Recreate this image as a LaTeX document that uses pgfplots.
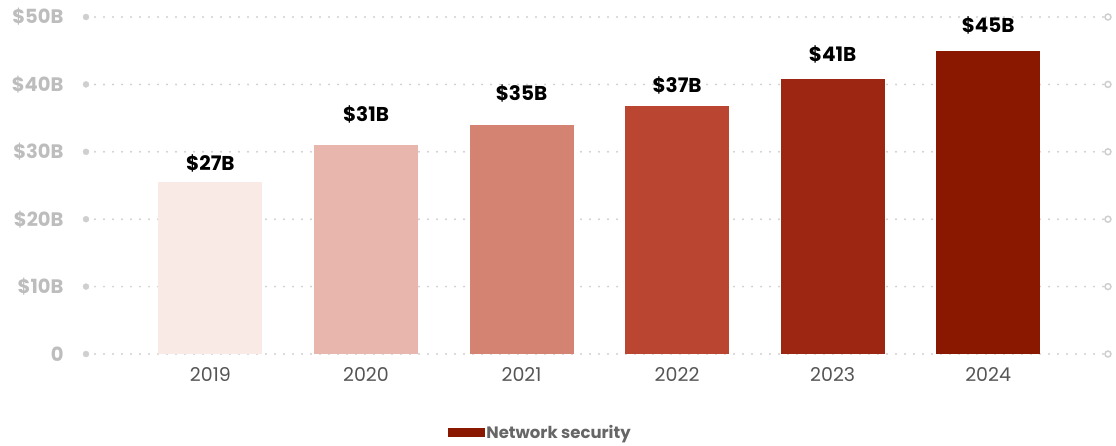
\documentclass[border=0pt]{standalone}
\usepackage{pgfplots}
\pgfplotsset{compat=1.18}
\usepackage{fontspec}
\setmainfont{Poppins}
\definecolor{cA}{HTML}{FAEAE5}
\definecolor{cB}{HTML}{E9B6AD}
\definecolor{cC}{HTML}{D48373}
\definecolor{cD}{HTML}{BA4530}
\definecolor{cE}{HTML}{9C2612}
\definecolor{cF}{HTML}{8A1800}
\definecolor{gridc}{HTML}{CFCFCF}
\definecolor{ylab}{HTML}{BDBDBD}
\definecolor{xlab}{HTML}{555555}
\definecolor{leglab}{HTML}{666666}
\begin{document}
\begin{tikzpicture}[x=1pt,y=1pt]
\path[use as bounding box] (0,0) rectangle (1116,445);
\begin{axis}[
  at={(86pt,91pt)}, anchor=south west,
  scale only axis, width=1022pt, height=337pt,
  xmin=-0.8, xmax=5.77, ymin=0, ymax=50,
  ytick={0,10,20,30,40,50},
  yticklabels={0,\$10B,\$20B,\$30B,\$40B,\$50B},
  xtick={0,1,2,3,4,5},
  xticklabels={2019,2020,2021,2022,2023,2024},
  axis line style={draw=none},
  major tick length=0pt,
  ymajorgrids,
  grid style={gridc, line width=2.2pt, line cap=round, dash pattern=on 0pt off 9pt},
  yticklabel style={font=\fontsize{19.5}{22}\selectfont\bfseries, text=ylab, anchor=east, xshift=-19pt},
  xticklabel style={font=\fontsize{19}{22}\selectfont, text=xlab, yshift=-10pt},
  clip=false,
  ybar, bar width=104pt,
  legend style={at={(0.354,-0.233)}, anchor=west, draw=none, inner sep=0pt,
    font=\fontsize{16.5}{19}\selectfont\bfseries, text=leglab},
  legend image code/.code={\fill[cF] (0pt,-4pt) rectangle (36pt,4pt);},
]
\addplot[forget plot, only marks, mark=*, mark size=3pt, gridc, draw=none] coordinates {(-0.8,0)(-0.8,10)(-0.8,20)(-0.8,30)(-0.8,40)(-0.8,50)};
\addplot[forget plot, only marks, mark=o, mark size=3pt, mark options={line width=1.5pt}, gridc, draw=none] coordinates {(5.77,0)(5.77,10)(5.77,20)(5.77,30)(5.77,40)(5.77,50)};
\addplot[forget plot, fill=cA, draw=none, bar shift=0pt] coordinates {(0,25.5)};
\addplot[forget plot, fill=cB, draw=none, bar shift=0pt] coordinates {(1,31.0)};
\addplot[forget plot, fill=cC, draw=none, bar shift=0pt] coordinates {(2,34.0)};
\addplot[forget plot, fill=cD, draw=none, bar shift=0pt] coordinates {(3,36.8)};
\addplot[forget plot, fill=cE, draw=none, bar shift=0pt] coordinates {(4,40.8)};
\addplot[forget plot, fill=cF, draw=none, bar shift=0pt] coordinates {(5,45.0)};
\addplot[forget plot, draw=none, fill=none, bar shift=0pt, bar width=0pt, nodes near coords, point meta=explicit symbolic,
  nodes near coords style={anchor=center, font=\fontsize{20}{23}\selectfont\bfseries, text=black}]
  coordinates {(0,28.3) [\$27B] (1,35.6) [\$31B] (2,38.7) [\$35B] (3,39.8) [\$37B] (4,44.4) [\$41B] (5,48.8) [\$45B]};
\addlegendimage{fill=cF}
\addlegendentry{Network security}
\end{axis}
\end{tikzpicture}
\end{document}
